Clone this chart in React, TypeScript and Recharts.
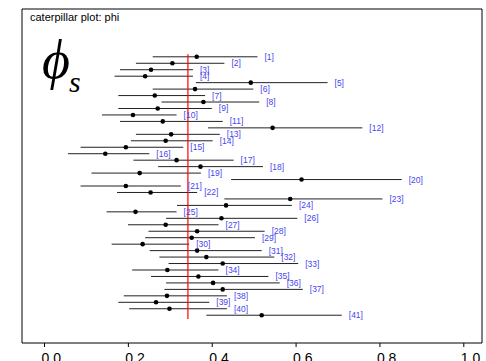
import React from "react";
import {
  ReferenceArea,
  ReferenceLine,
  Scatter,
  ScatterChart,
  XAxis,
  YAxis,
} from "recharts";

// interval bounds and point estimates for phi[1..41]
const lo = [
  0.258, 0.218, 0.18, 0.167, 0.361, 0.258, 0.176, 0.279, 0.176, 0.137,
  0.18, 0.39, 0.218, 0.206, 0.086, 0.056, 0.212, 0.271, 0.112, 0.445,
  0.086, 0.173, 0.429, 0.316, 0.148, 0.29, 0.199, 0.248, 0.24, 0.16,
  0.251, 0.274, 0.296, 0.209, 0.254, 0.29, 0.286, 0.189, 0.176, 0.202,
  0.386,
];
const mid = [
  0.363, 0.305, 0.254, 0.24, 0.492, 0.359, 0.263, 0.379, 0.27, 0.211,
  0.282, 0.544, 0.302, 0.289, 0.194, 0.145, 0.315, 0.372, 0.227, 0.613,
  0.194, 0.253, 0.586, 0.433, 0.217, 0.422, 0.289, 0.364, 0.351, 0.234,
  0.364, 0.386, 0.425, 0.293, 0.367, 0.402, 0.425, 0.292, 0.266, 0.298,
  0.518,
];
const hi = [
  0.508, 0.429, 0.354, 0.354, 0.675, 0.498, 0.383, 0.512, 0.399, 0.315,
  0.425, 0.758, 0.418, 0.401, 0.331, 0.25, 0.451, 0.521, 0.373, 0.852,
  0.325, 0.364, 0.806, 0.59, 0.315, 0.603, 0.415, 0.525, 0.502, 0.345,
  0.518, 0.548, 0.605, 0.415, 0.534, 0.561, 0.616, 0.435, 0.393, 0.435,
  0.709,
];
const xTicks = [0, 0.2, 0.4, 0.6, 0.8, 1.0];
const overallMean = 0.342;

const rows = mid.map((m, i) => ({
  idx: i + 1,
  lo: lo[i],
  mid: m,
  hi: hi[i],
  label: `[${i + 1}]`,
}));
const pointData = rows.map((r) => ({ x: r.mid, y: r.idx }));
const labelData = rows.map((r) => ({ x: r.hi, y: r.idx, label: r.label }));

const W = 486;
const H = 361;
const X_DOM: [number, number] = [-0.0537, 1.0434];
const Y_DOM: [number, number] = [-6.4, 45.3];

const Dot = (p: any) => <circle cx={p.cx} cy={p.cy} r={2.3} fill="#000" />;

const Tag = (p: any) => (
  <text
    x={p.cx + 7}
    y={p.cy + 3}
    fontSize={8.5}
    fontFamily="Liberation Sans, Arial, sans-serif"
    fill="#4646f0"
  >
    {p.payload.label}
  </text>
);

const Tick = (p: any) => (
  <text
    x={p.x - 3}
    y={p.y}
    dy="0.72em"
    fontSize={14}
    fontFamily="Liberation Sans, Arial, sans-serif"
    fill="#000"
    textAnchor="start"
  >
    {Number(p.payload.value).toFixed(1)}
  </text>
);

export default function App() {
  return (
    <div style={{ position: "absolute", left: 0, top: 0, width: W, height: H, background: "#fff" }}>
      <ScatterChart
        width={W}
        height={H}
        margin={{ top: 9, right: 4, left: 22, bottom: 0 }}
      >
        <XAxis
          type="number"
          dataKey="x"
          domain={X_DOM}
          ticks={xTicks}
          allowDataOverflow
          axisLine={false}
          tickLine={{ stroke: "#000" }}
          tickSize={4}
          tickMargin={6}
          height={18}
          tick={<Tick />}
        />
        <YAxis
          type="number"
          dataKey="y"
          domain={Y_DOM}
          reversed
          allowDataOverflow
          hide
        />
        <ReferenceArea
          x1={X_DOM[0]}
          x2={X_DOM[1]}
          y1={Y_DOM[0]}
          y2={Y_DOM[1]}
          fill="none"
          stroke="#000"
          strokeWidth={1}
          ifOverflow="visible"
        />
        {rows.map((r) => (
          <ReferenceLine
            key={r.idx}
            segment={[
              { x: r.lo, y: r.idx },
              { x: r.hi, y: r.idx },
            ]}
            stroke="#222"
            strokeWidth={1}
          />
        ))}
        <ReferenceLine
          segment={[
            { x: overallMean, y: 0.6 },
            { x: overallMean, y: 41.6 },
          ]}
          stroke="#ff0000"
          strokeWidth={1.2}
        />
        <Scatter data={pointData} shape={<Dot />} isAnimationActive={false} />
        <Scatter data={labelData} shape={<Tag />} isAnimationActive={false} />
      </ScatterChart>
      <svg
        width={W}
        height={H}
        style={{ position: "absolute", left: 0, top: 0, pointerEvents: "none" }}
      >
        <text
          x={30}
          y={21}
          fontSize={11}
          fontFamily="Liberation Sans, Arial, sans-serif"
          fill="#000"
        >
          caterpillar plot: phi
        </text>
        <text
          x={42}
          y={78}
          fontSize={54}
          fontStyle="italic"
          fontFamily="Liberation Serif, Times New Roman, serif"
          fill="#000"
        >
          ϕ
        </text>
        <text
          x={69}
          y={92}
          fontSize={30}
          fontStyle="italic"
          fontFamily="Liberation Serif, Times New Roman, serif"
          fill="#000"
        >
          s
        </text>
      </svg>
    </div>
  );
}
